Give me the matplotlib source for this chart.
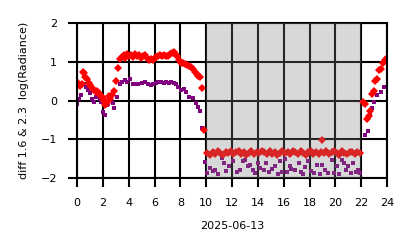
import matplotlib
matplotlib.use("Agg")
import matplotlib.pyplot as plt

# hours of the day, red series (diff 1.6 & 2.3)
red_hours = [
    0.0, 0.1, 0.2, 0.35, 0.45, 0.55, 0.65, 0.75, 0.9, 1.0, 1.1, 1.2, 1.3, 1.45,
    1.55, 1.7, 1.8, 1.9, 2.0, 2.1, 2.2, 2.3, 2.45, 2.55, 2.7, 2.9, 3.05, 3.15,
    3.3, 3.45, 3.6, 3.75, 3.9, 4.05, 4.2, 4.35, 4.5, 4.65, 4.8, 4.95, 5.1, 5.25,
    5.4, 5.55, 5.7, 5.85, 6.0, 6.15, 6.3, 6.45, 6.6, 6.75, 6.9, 7.05, 7.2, 7.35,
    7.5, 7.6, 7.75, 7.9, 8.05, 8.2, 8.35, 8.5, 8.65, 8.8, 8.95, 9.1, 9.25, 9.4,
    9.5, 9.7, 9.85,
    10.1, 10.3, 10.5, 10.7, 10.9, 11.1, 11.3, 11.5, 11.7, 11.9, 12.1, 12.3,
    12.5, 12.7, 12.9, 13.1, 13.3, 13.5, 13.7, 13.9, 14.1, 14.3, 14.5, 14.7,
    14.9, 15.1, 15.3, 15.5, 15.7, 15.9, 16.1, 16.3, 16.5, 16.7, 16.9, 17.1,
    17.3, 17.5, 17.7, 17.9, 18.1, 18.3, 18.5, 18.7, 18.9, 19.0, 19.1, 19.3,
    19.5, 19.7, 19.9, 20.1, 20.3, 20.5, 20.7, 20.9, 21.1, 21.3, 21.5, 21.7,
    21.9,
    22.1, 22.3, 22.45, 22.6, 22.7, 22.85, 22.95, 23.1, 23.25, 23.4, 23.55,
    23.7, 23.85, 24.0,
]
red_values = [
    0.40, 0.45, 0.38, 0.42, 0.75, 0.70, 0.60, 0.55, 0.45, 0.40, 0.35, 0.30,
    0.27, 0.22, 0.25, 0.20, 0.15, 0.10, 0.06, 0.00, -0.12, -0.05, 0.12, 0.05,
    0.15, 0.25, 0.50, 0.85, 1.08, 1.12, 1.17, 1.10, 1.20, 1.15, 1.17, 1.12,
    1.20, 1.15, 1.18, 1.10, 1.15, 1.18, 1.10, 1.05, 1.08, 1.05, 1.10, 1.12,
    1.15, 1.17, 1.14, 1.18, 1.15, 1.16, 1.20, 1.22, 1.26, 1.20, 1.15, 1.05,
    0.98, 0.96, 0.95, 0.93, 0.90, 0.87, 0.82, 0.75, 0.68, 0.64, 0.60, 0.32,
    -0.76,
    -1.36, -1.40, -1.33, -1.38, -1.30, -1.35, -1.41, -1.32, -1.36, -1.30,
    -1.38, -1.34, -1.29, -1.37, -1.33, -1.40, -1.35, -1.31, -1.38, -1.32,
    -1.36, -1.29, -1.34, -1.39, -1.31, -1.37, -1.33, -1.40, -1.35, -1.30,
    -1.36, -1.32, -1.38, -1.29, -1.34, -1.37, -1.31, -1.36, -1.40, -1.33,
    -1.30, -1.37, -1.34, -1.38, -1.32, -1.02, -1.36, -1.30, -1.38, -1.33,
    -1.29, -1.36, -1.40, -1.31, -1.35, -1.38, -1.32, -1.34, -1.37, -1.33,
    -1.35,
    -0.03, -0.10, -0.48, -0.40, -0.28, 0.18, 0.25, 0.50, 0.55, 0.78, 0.82,
    0.98, 1.04, 1.10,
]

# hours of the day, purple series
purple_hours = [
    0.0, 0.15, 0.3, 0.55, 0.7, 0.85, 1.0, 1.15, 1.3, 1.45, 1.6, 1.75, 1.85,
    2.05, 2.15, 2.3, 2.4, 2.6, 2.75, 2.9, 3.08, 3.3, 3.5, 3.7, 3.9, 4.1, 4.35,
    4.55, 4.75, 5.0, 5.25, 5.5, 5.7, 5.9, 6.1, 6.3, 6.5, 6.7, 6.9, 7.1, 7.3,
    7.5, 7.65, 7.85, 8.05, 8.25, 8.45, 8.7, 8.98, 9.2, 9.37, 9.5, 9.7, 9.88,
    10.1, 10.3, 10.55, 10.7, 10.95, 11.2, 11.4, 11.55, 11.8, 12.1, 12.4, 12.6,
    12.85, 13.0, 13.2, 13.4, 13.6, 13.75, 14.0, 14.2, 14.45, 14.65, 14.85,
    15.1, 15.35, 15.55, 15.75, 15.9, 16.1, 16.25, 16.45, 16.6, 16.9, 17.15,
    17.3, 17.5, 17.65, 17.9, 18.1, 18.35, 18.6, 18.8, 18.95, 19.2, 19.45,
    19.7, 19.9, 20.1, 20.3, 20.5, 20.7, 20.85, 21.0, 21.2, 21.4, 21.6, 21.75,
    21.9,
    22.3, 22.55, 22.7, 22.85, 23.0, 23.2, 23.5, 23.75,
]
purple_values = [
    -0.10, 0.05, 0.15, 0.42, 0.35, 0.27, 0.20, 0.05, -0.04, 0.10, 0.14, 0.05,
    -0.03, -0.30, -0.38, -0.12, -0.08, 0.05, -0.05, -0.20, 0.10, 0.44, 0.48,
    0.53, 0.48, 0.56, 0.44, 0.42, 0.44, 0.45, 0.48, 0.42, 0.40, 0.42, 0.45,
    0.47, 0.48, 0.45, 0.48, 0.45, 0.48, 0.46, 0.42, 0.35, 0.27, 0.30, 0.22,
    0.10, 0.06, -0.05, -0.16, -0.26, -0.72, -1.58,
    -1.88, -1.75, -1.83, -1.80, -1.90, -1.47, -1.62, -1.83, -1.70, -1.57,
    -1.85, -1.78, -1.57, -1.54, -1.70, -1.66, -1.80, -1.88, -1.62, -1.74,
    -1.80, -1.60, -1.85, -1.76, -1.68, -1.90, -1.57, -1.85, -1.50, -1.85,
    -1.70, -1.76, -1.80, -1.60, -1.85, -1.90, -1.72, -1.55, -1.82, -1.88,
    -1.66, -1.90, -1.66, -1.78, -1.88, -1.54, -1.86, -1.70, -1.90, -1.54,
    -1.60, -1.80, -1.70, -1.88, -1.62, -1.85, -1.80, -1.88,
    -0.89, -0.78, -0.33, -0.20, -0.03, 0.15, 0.22, 0.36,
]

x_ticks = list(range(0, 25, 2))
y_ticks = [-2, -1, 0, 1, 2]
night_start, night_end = 10, 22


def main():
    fig = plt.figure(figsize=(4.14, 2.48), dpi=100)
    ax = fig.add_axes([0.186, 0.282, 0.749, 0.625])

    ax.plot(purple_hours, purple_values, "s", color="purple", ms=2.8, mew=0, zorder=2)
    ax.plot(red_hours, red_values, "D", color="red", ms=3.6, mew=0, zorder=2.1)
    ax.axvspan(night_start, night_end, color="gray", alpha=0.3, lw=0, zorder=3)

    ax.set_xlim(0, 24)
    ax.set_ylim(-2, 2)
    ax.set_xticks(x_ticks)
    ax.set_yticks(y_ticks)
    ax.grid(True, color="black", lw=1.5)
    for s in ax.spines.values():
        s.set_color("black")
        s.set_linewidth(1.5)
    ax.tick_params(length=6.5, width=1.5, labelsize=8)
    ax.tick_params(axis="x", pad=8)
    ax.tick_params(axis="y", pad=8)

    ax.set_xlabel("2025-06-13", fontsize=8, labelpad=9)
    ax.set_ylabel("diff 1.6 & 2.3  log(Radiance)", fontsize=8, labelpad=8)

    fig.savefig("out.png", dpi=100)


if __name__ == "__main__":
    main()
